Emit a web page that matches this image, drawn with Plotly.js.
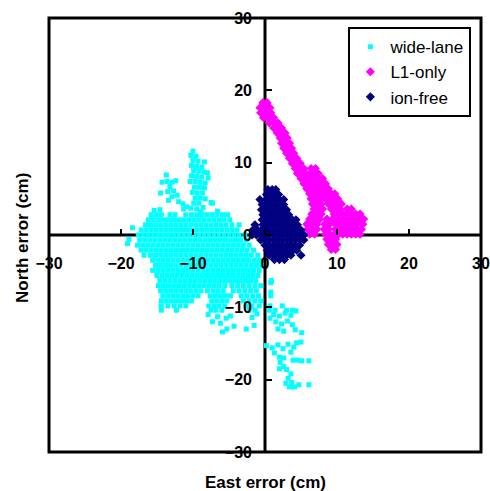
<!DOCTYPE html>
<html><head><meta charset="utf-8">
<script src="https://cdn.plot.ly/plotly-3.0.1.min.js"></script>
<style>html,body{margin:0;padding:0;background:#fff}</style>
</head><body><div id="chart" style="width:490px;height:491px"></div>
<script>
const seriesNames = ['wide-lane', 'L1-only', 'ion-free'];
const seriesColors = ['#00FFFF', '#FF00FF', '#000080'];
const axisRange = [-30, 30];
const xTitle = 'East error (cm)';
const yTitle = 'North error (cm)';

// wide-lane: rows of [north, [east...]] (cm)
const wideLaneRows = [
  [2.8, [-15.8,-15.1,-14.4,-13.2,-12.5,-11.0,-10.2,-9.5,-8.8,-8.1,-7.4,-6.7,-5.9,-5.2]],
  [2.1, [-16.2,-15.5,-14.8,-14.1,-13.4,-12.7,-12.0,-11.3,-10.6,-9.9,-9.2,-8.5,-7.8,-7.1,-6.4,-5.7,-4.9]],
  [1.4, [-16.6,-15.9,-15.2,-14.5,-13.8,-13.1,-12.4,-11.7,-11.0,-10.3,-9.6,-8.9,-8.2,-7.5,-6.8,-6.1,-5.4,-4.6,-3.6]],
  [0.7, [-17.2,-16.5,-15.8,-15.1,-14.4,-13.7,-13.0,-12.3,-11.6,-10.9,-10.2,-9.5,-8.8,-8.1,-7.4,-6.7,-6.0,-5.3,-4.6,-3.9]],
  [0.0, [-17.6,-16.9,-16.2,-15.5,-14.8,-14.1,-13.4,-12.7,-12.0,-11.3,-10.6,-9.9,-9.2,-8.5,-7.8,-7.1,-6.4,-5.7,-5.0,-4.3,-3.6,-2.8]],
  [-0.7, [-17.4,-16.7,-16.0,-15.3,-14.6,-13.9,-13.2,-12.5,-11.8,-11.1,-10.4,-9.7,-9.0,-8.3,-7.6,-6.9,-6.2,-5.5,-4.8,-4.1,-3.4,-2.6]],
  [-1.4, [-17.7,-17.0,-16.3,-15.6,-14.9,-14.2,-13.5,-12.8,-12.1,-11.4,-10.7,-10.0,-9.3,-8.6,-7.9,-7.2,-6.5,-5.8,-5.1,-4.4,-3.7,-3.0,-2.2]],
  [-2.1, [-17.2,-16.5,-15.8,-15.1,-14.4,-13.7,-13.0,-12.3,-11.6,-10.9,-10.2,-9.5,-8.8,-8.1,-7.4,-6.7,-6.0,-5.3,-4.6,-3.9,-3.2,-2.5,-1.6]],
  [-2.8, [-16.8,-15.9,-15.2,-14.5,-13.8,-13.1,-12.4,-11.7,-11.0,-10.3,-9.6,-8.9,-8.2,-7.5,-6.8,-6.1,-5.4,-4.7,-4.0,-3.3,-2.6,-1.9,-1.0]],
  [-3.5, [-15.6,-14.9,-14.2,-13.5,-12.8,-12.1,-11.4,-10.7,-10.0,-9.3,-8.6,-7.9,-7.2,-6.5,-5.8,-5.1,-4.4,-3.7,-3.0,-2.3,-1.5,-0.8]],
  [-4.2, [-15.2,-14.5,-13.8,-13.1,-12.4,-11.7,-11.0,-10.3,-9.6,-8.9,-8.2,-7.5,-6.8,-6.1,-5.4,-4.7,-4.0,-3.3,-2.6,-1.9,-1.2,-0.5]],
  [-4.9, [-15.6,-14.9,-14.2,-13.5,-12.8,-12.1,-11.4,-10.7,-10.0,-9.3,-8.6,-7.9,-7.2,-6.5,-5.8,-5.1,-4.4,-3.7,-3.0,-2.3,-1.6,-0.8]],
  [-5.6, [-15.0,-14.3,-13.6,-12.9,-12.2,-11.5,-10.8,-10.1,-9.4,-8.7,-8.0,-7.3,-6.6,-5.9,-5.2,-4.5,-3.8,-3.1,-2.4,-1.7,-1.0]],
  [-6.3, [-14.6,-13.9,-13.2,-12.5,-11.8,-11.1,-10.4,-9.7,-9.0,-8.3,-7.6,-6.9,-6.2,-5.5,-4.8,-4.1,-3.4,-2.7,-2.0,-1.3,0.9]],
  [-7.0, [-14.8,-14.1,-13.4,-12.7,-12.0,-11.3,-10.6,-9.9,-9.2,-8.5,-7.8,-7.1,-6.4,-5.6,-4.6,-3.8,-3.0,-2.2,-1.4,-0.6]],
  [-7.7, [-14.5,-13.8,-13.1,-12.4,-11.7,-11.0,-10.3,-9.6,-8.9,-8.0,-7.2,-6.5,-5.8,-4.4,-3.6,-2.8,-2.0,-1.2]],
  [-8.4, [-14.2,-13.5,-12.8,-12.1,-11.4,-10.7,-10.0,-9.3,-7.6,-6.9,-6.2,-5.5,-4.8,-3.3,-2.5,-1.7,-0.9,0.8]],
  [-9.1, [-14.4,-13.7,-13.0,-12.3,-11.6,-10.9,-10.2,-7.4,-6.7,-6.0,-5.3,-3.0,-2.2,-1.4,-0.6]],
  [-9.8, [-14.4,-13.5,-12.6,-11.8,-11.0,-7.8,-7.1,-6.4,-5.6,-2.6,-1.8,-0.8,0.7,2.4]],
  [-10.4, [-14.4,-12.3,-7.5,-6.8,-6.0,-2.2,-1.4,0.6,1.4,3.0,3.8]]
];
// wide-lane: scattered points [east, north] (cm)
const wideLanePoints = [
  [-10.0,11.6],[-10.3,11.0],[-9.6,10.9],[-10.0,10.3],[-9.3,10.2],[-8.4,10.1],[-10.2,9.6],[-9.5,9.5],[-8.8,9.4],
  [-9.9,8.9],[-9.2,8.8],[-8.5,8.7],[-8.0,8.6],[-10.2,8.2],[-9.5,8.1],[-8.8,8.0],[-7.9,7.9],[-10.4,7.4],[-9.7,7.4],
  [-9.0,7.3],[-8.3,7.2],[-9.8,6.6],[-9.1,6.6],[-8.4,6.5],[-10.1,5.9],[-9.4,5.8],[-8.7,5.8],[-9.7,5.1],[-9.0,5.1],
  [-8.3,5.0],[-7.5,4.5],[-9.9,4.4],[-9.2,4.4],[-8.6,3.8],[-10.3,3.7],[-9.5,3.6],[-7.3,4.4],[-8.9,3.2],[-6.6,3.3],
  [-13.7,8.3],[-14.3,7.3],[-13.6,7.4],[-12.9,7.3],[-12.4,7.5],[-13.2,6.7],[-14.5,5.8],[-13.5,6.0],[-12.7,6.1],
  [-12.9,5.3],[-12.2,5.5],[-13.4,4.8],[-12.0,4.6],[-11.4,4.3],[-10.9,3.9],[-11.3,3.6],[-15.4,3.4],[-14.6,3.5],
  [-18.4,1.0],[-19.1,-1.2],[-18.9,-0.6],
  [-7.3,-12.0],[-5.9,-13.4],[-6.2,-12.2],[-5.4,-11.5],[-4.3,-12.6],[-2.6,-13.0],[-1.5,-12.5],[-1.8,-11.4],
  [-1.1,-10.9],[-6.6,-11.3],[-7.9,-11.0],[-5.3,-13.0],[-4.8,-11.2],
  [0.8,-6.6],[0.8,-7.9],[1.2,-11.0],[2.0,-11.2],[2.8,-10.8],[3.6,-11.1],[4.3,-10.5],[0.7,-11.5],
  [1.5,-12.0],[2.3,-12.3],[3.1,-11.9],[3.8,-12.4],[1.8,-13.0],[2.6,-13.3],[4.2,-13.1],[5.1,-13.5],[5.0,-14.8],
  [0.2,-15.3],[1.0,-15.6],[1.8,-15.2],[2.5,-15.7],[3.2,-15.1],[4.0,-15.5],[1.3,-16.3],[3.6,-16.2],[4.4,-14.9],
  [2.0,-16.9],[2.6,-17.0],[2.1,-17.6],[2.6,-18.2],[2.0,-18.5],[3.9,-17.3],[4.5,-17.3],[5.1,-17.4],[6.1,-17.4],
  [3.0,-18.6],[3.6,-19.2],[3.2,-19.8],[2.9,-20.5],[3.7,-20.4],[4.1,-21.0],[3.4,-21.0],[4.7,-20.7],[6.1,-20.7]
];
// L1-only: rows of [north, [east...]] (cm)
const l1OnlyRows = [
  [18.3, [-0.3,0.3]],
  [17.6, [-0.7,0.0,0.7]],
  [16.9, [-0.6,0.1,0.8]],
  [16.2, [-0.2,0.5,1.2]],
  [15.5, [0.6,1.3,1.8]],
  [14.8, [1.2,1.9,2.3]],
  [14.1, [1.7,2.3,2.8]],
  [13.4, [2.1,2.7,3.1]],
  [12.7, [2.3,2.9,3.4]],
  [12.0, [2.6,3.2,3.7]],
  [11.3, [3.0,3.6,4.0]],
  [10.6, [3.4,3.9,4.4]],
  [9.9, [3.8,4.3,4.9]],
  [9.2, [4.2,4.8,5.4,6.4,7.0]],
  [8.5, [4.5,5.1,5.7,6.3,6.9,7.4]],
  [7.8, [5.0,5.6,6.2,6.8,7.4,8.0]],
  [7.1, [5.4,6.0,6.6,7.2,7.8,8.4]],
  [6.4, [5.8,6.4,7.0,7.6,8.2,8.8]],
  [5.7, [6.2,6.8,7.4,8.0,8.6,9.2,9.7]],
  [5.0, [6.4,7.0,7.6,8.4,9.0,9.6,10.1]],
  [4.3, [6.6,7.2,7.8,8.8,9.4,10.0,10.6]],
  [3.6, [6.8,7.4,8.0,9.2,9.8,10.4,11.4,12.0]],
  [2.9, [6.5,7.2,7.8,9.6,10.2,10.8,11.4,12.0,12.6,13.2]],
  [2.2, [6.2,6.9,7.6,8.6,9.4,10.2,10.8,11.4,12.0,12.6,13.2,13.7]],
  [1.5, [5.8,6.5,7.2,8.3,8.9,9.8,10.4,11.0,11.6,12.2,12.8,13.6]],
  [0.8, [5.9,6.6,7.2,8.2,8.8,9.8,10.4,11.0,11.6,12.2,12.8,13.4]],
  [0.1, [6.2,6.9,8.4,9.0,9.6,10.2,10.8,11.4,12.0,12.6,13.2]],
  [-0.6, [8.6,9.2,9.8]],
  [-1.3, [8.8,9.4,10.0]],
  [-2.0, [9.2,9.8]]
];
// ion-free: rows of [north, [east...]] (cm)
const ionFreeRows = [
  [6.3, [0.4,1.0,1.5]],
  [5.6, [0.2,0.8,1.4,1.9]],
  [4.9, [-0.7,0.2,0.8,1.4,2.0,2.6]],
  [4.2, [-0.4,0.2,0.8,1.4,2.0,2.6]],
  [3.5, [-0.5,0.1,0.7,1.3,1.9,2.5,3.0]],
  [2.8, [-0.3,0.3,0.9,1.5,2.1,2.7,3.3]],
  [2.1, [-0.4,0.2,0.8,1.4,2.0,2.6,3.2,3.8,4.3]],
  [1.4, [-1.4,-0.3,0.3,0.9,1.5,2.1,2.7,3.3,3.9,4.5]],
  [0.7, [-1.7,-1.0,-0.4,0.2,0.8,1.4,2.0,2.6,3.2,3.8,4.4,5.0]],
  [0.0, [-1.8,-1.2,-0.6,0.0,0.6,1.2,1.8,2.4,3.0,3.6,4.2,4.8,5.4]],
  [-0.7, [-0.6,0.0,0.6,1.2,1.8,2.4,3.0,3.6,4.2,4.8,5.4]],
  [-1.4, [0.0,0.6,1.2,1.8,2.4,3.0,3.6,4.2,4.8]],
  [-2.1, [0.3,0.9,1.5,2.1,2.7,3.3,3.9,4.4]],
  [-2.8, [0.6,1.2,1.8,2.4,3.0,3.6,5.0]],
  [-3.4, [1.3,2.0,2.7]]
];

function fromRows(rows) {
  const x = [], y = [];
  rows.forEach(r => r[1].forEach(v => { x.push(v); y.push(r[0]); }));
  return {x, y};
}
const wl = fromRows(wideLaneRows);
wideLanePoints.forEach(p => { wl.x.push(p[0]); wl.y.push(p[1]); });
const l1 = fromRows(l1OnlyRows);
const ifr = fromRows(ionFreeRows);

const traces = [
  {x: wl.x, y: wl.y, name: seriesNames[0], type: 'scatter', mode: 'markers',
   marker: {symbol: 'square', size: 5, color: seriesColors[0]}},
  {x: l1.x, y: l1.y, name: seriesNames[1], type: 'scatter', mode: 'markers',
   marker: {symbol: 'diamond', size: 7, color: seriesColors[1]}},
  {x: ifr.x, y: ifr.y, name: seriesNames[2], type: 'scatter', mode: 'markers',
   marker: {symbol: 'diamond', size: 7, color: seriesColors[2]}}
];

const FONT = 'Liberation Sans, Arial, sans-serif';
const axisCommon = {
  range: axisRange, dtick: 10, showgrid: false, zeroline: false,
  showline: false,
  ticks: 'inside', ticklen: 6, tickwidth: 2, tickcolor: '#000',
  anchor: 'free', position: 0.5, layer: 'above traces', fixedrange: true,
  ticklabeloverflow: 'allow',
  tickfont: {family: FONT, size: 16, color: '#000', weight: 'bold'}
};

const layout = {
  width: 490, height: 491,
  margin: {l: 49, r: 9, t: 18, b: 39, pad: 0},
  paper_bgcolor: '#fff', plot_bgcolor: '#fff',
  showlegend: true,
  xaxis: Object.assign({}, axisCommon, {ticklabelstandoff: 17}),
  yaxis: Object.assign({}, axisCommon, {ticklabelstandoff: 13}),
  legend: {x: 0.693, y: 0.979, xanchor: 'left', yanchor: 'top',
    bgcolor: '#fff', bordercolor: '#000', borderwidth: 2,
    font: {family: FONT, size: 17, color: '#000'}},
  shapes: [
    {type: 'line', xref: 'paper', yref: 'y', x0: 0, x1: 1, y0: 0, y1: 0,
     line: {color: '#000', width: 3}, layer: 'below'},
    {type: 'line', xref: 'x', yref: 'paper', x0: 0, x1: 0, y0: 0, y1: 1,
     line: {color: '#000', width: 3}, layer: 'below'},
    {type: 'rect', xref: 'paper', yref: 'paper', x0: 0, x1: 1, y0: 0, y1: 1,
     line: {color: '#000', width: 3}, layer: 'above'}
  ],
  annotations: [
    {text: xTitle, xref: 'paper', yref: 'paper', x: 0.5, y: 0, xanchor: 'center', yanchor: 'middle',
     yshift: -30, showarrow: false, font: {family: FONT, size: 17, color: '#000', weight: 'bold'}},
    {text: yTitle, xref: 'paper', yref: 'paper', x: 0, y: 0.5, xanchor: 'center', yanchor: 'middle',
     xshift: -27, yshift: -3, textangle: -90, showarrow: false, font: {family: FONT, size: 17, color: '#000', weight: 'bold'}}
  ]
};

Plotly.newPlot('chart', traces, layout, {displayModeBar: false, staticPlot: true});
</script></body></html>
